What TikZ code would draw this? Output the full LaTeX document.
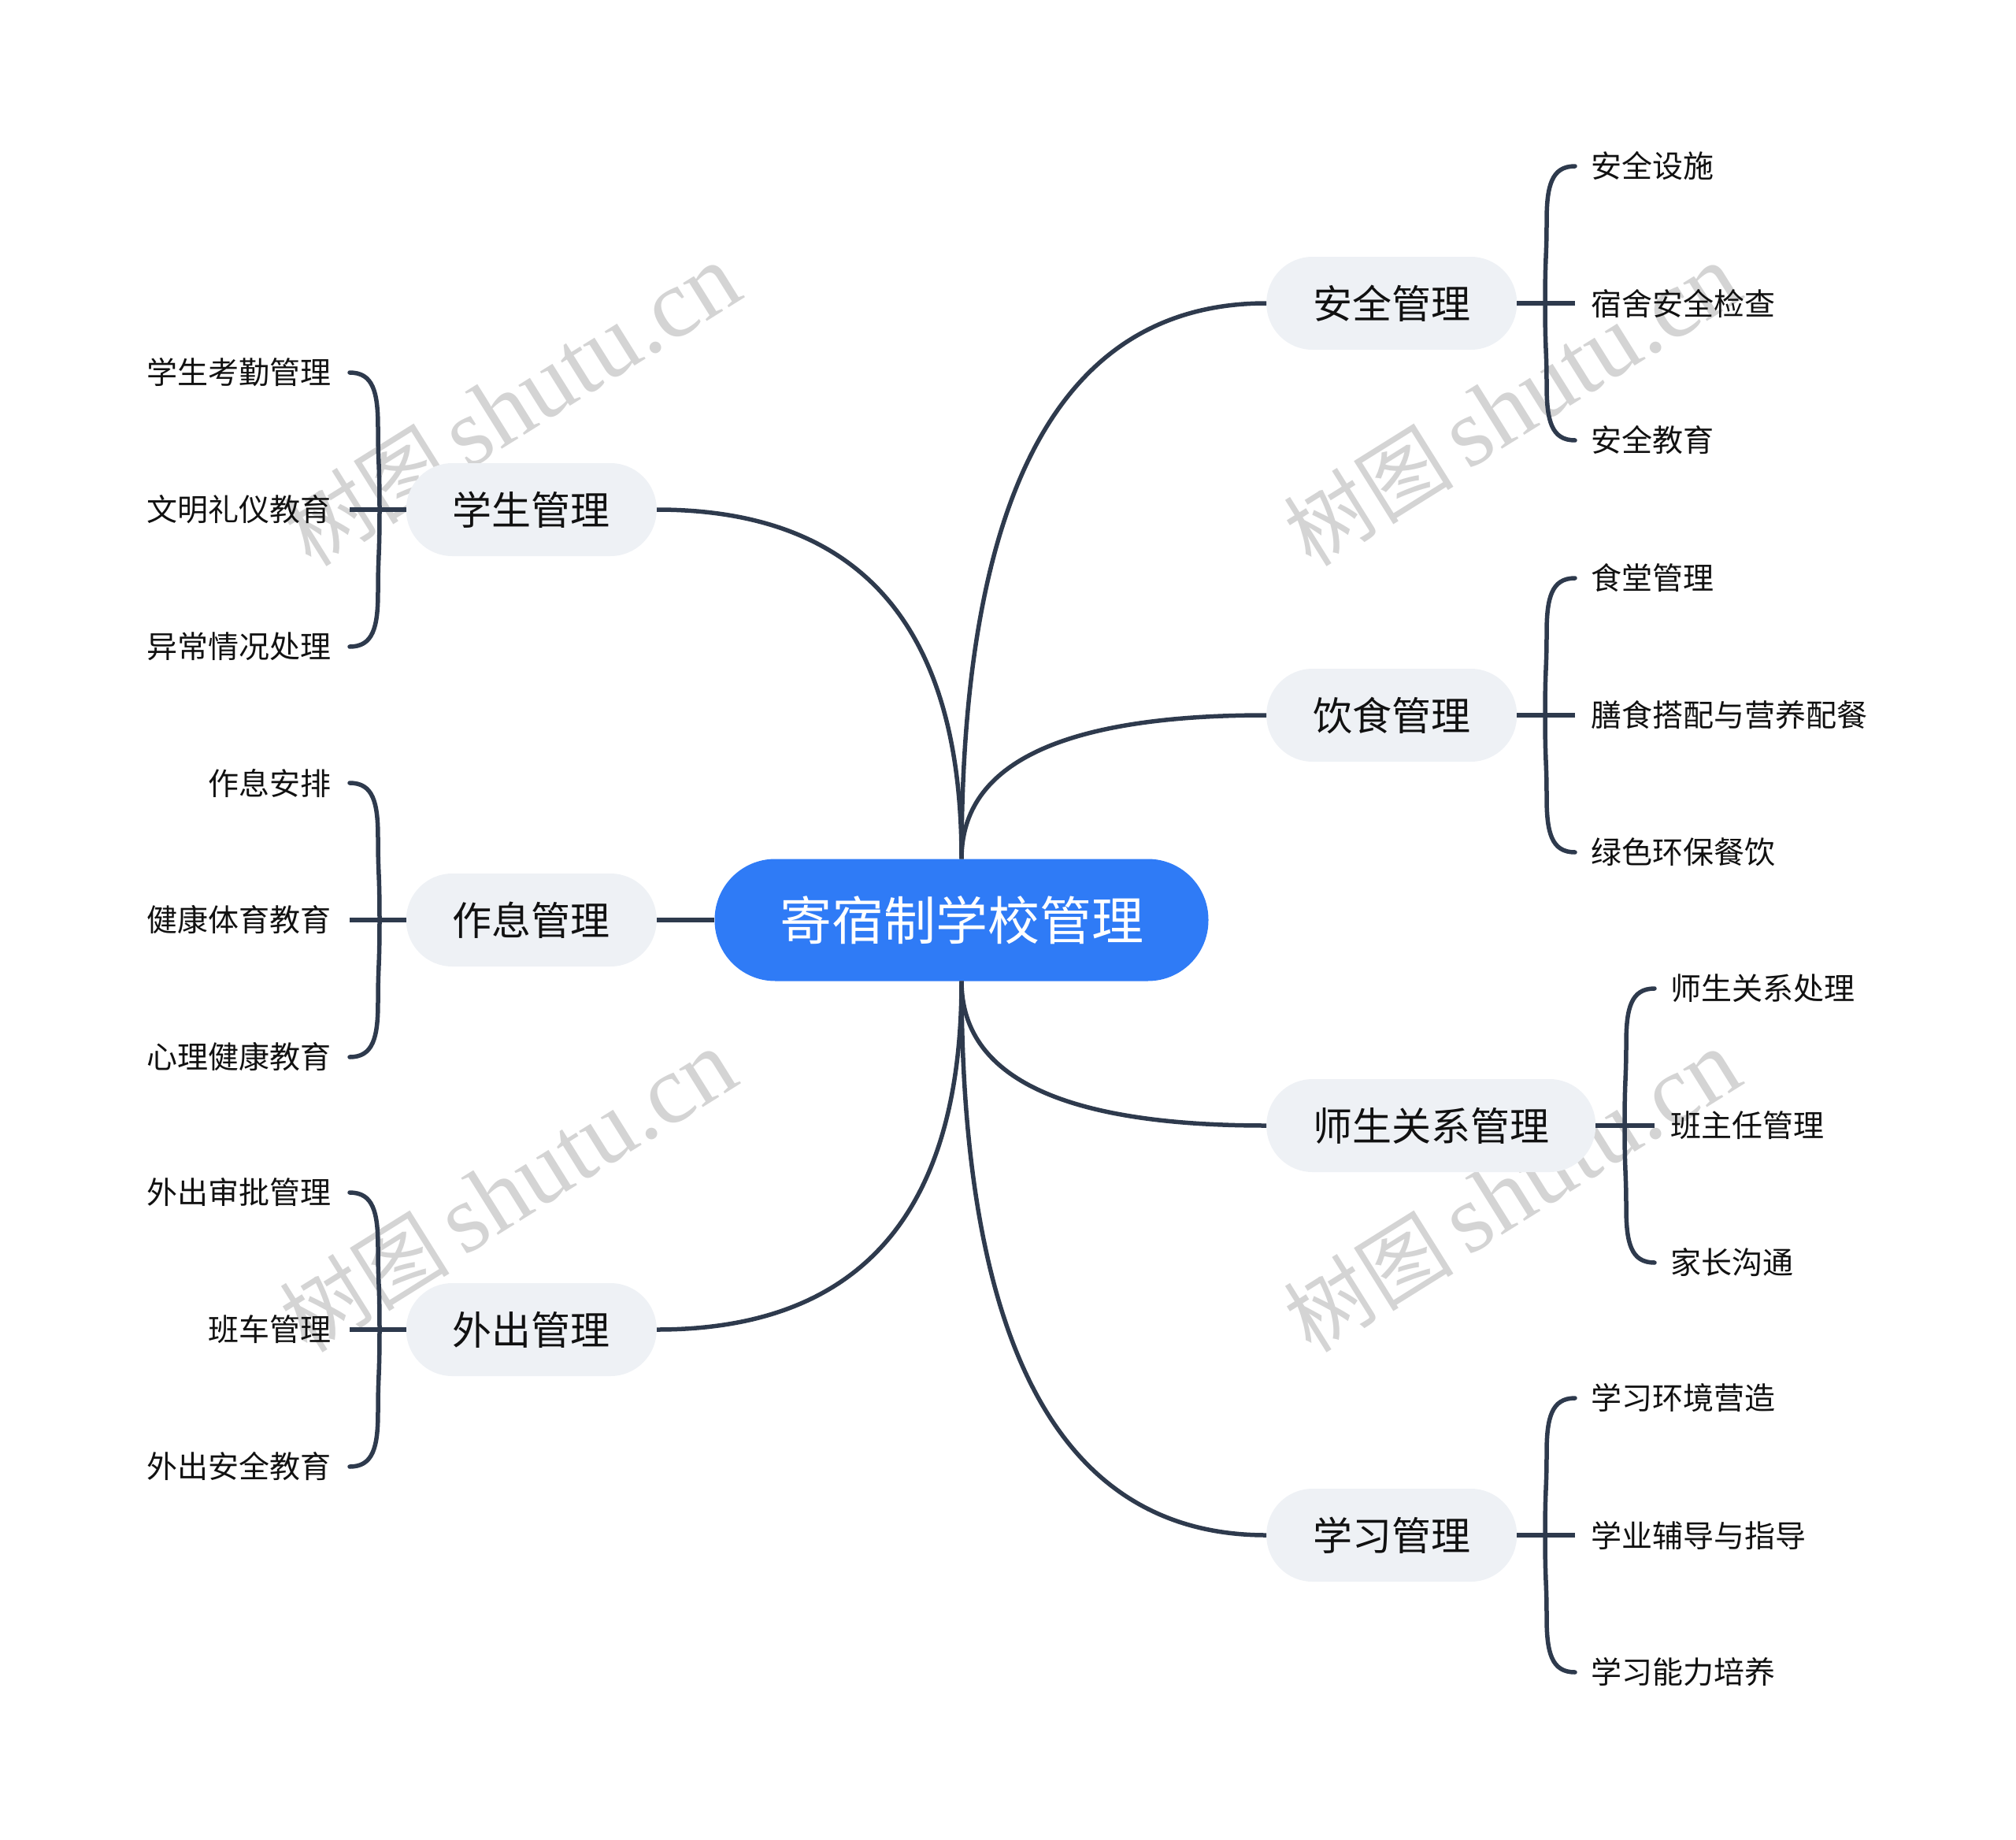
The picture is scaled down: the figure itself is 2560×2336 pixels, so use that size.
\documentclass[tikz,border=0pt]{standalone}
\usepackage{fontspec}
\newfontfamily\cjk{Noto Sans CJK SC}
\newfontfamily\wmserif{Liberation Serif}
\usetikzlibrary{calc}
\definecolor{linec}{HTML}{2E3A4D}
\definecolor{rootc}{HTML}{2F7BF6}
\definecolor{subc}{HTML}{EEF1F5}
\definecolor{wmc}{HTML}{D4D4D4}
\definecolor{txtc}{HTML}{111111}
\begin{document}
\begin{tikzpicture}[x=1pt,y=-1pt,
  root/.style={fill=rootc, text=white, rounded corners=77pt, minimum height=155pt, minimum width=627pt, inner sep=0pt, font=\cjk\fontsize{66}{66}\selectfont},
  topic/.style={fill=subc, text=txtc, rounded corners=58.5pt, minimum height=118pt, inner xsep=59pt, inner ysep=0pt, font=\cjk\fontsize{50}{50}\selectfont},
  leafr/.style={anchor=west, inner xsep=20pt, inner ysep=0pt, text=txtc, font=\cjk\fontsize{39}{39}\selectfont},
  leafl/.style={anchor=east, inner xsep=23pt, inner ysep=0pt, text=txtc, font=\cjk\fontsize{39}{39}\selectfont},
  conn/.style={draw=linec, line width=5.5pt},
  wm/.style={rotate=32, text=wmc, inner sep=0pt}
]
\useasboundingbox (0,0) rectangle (2560,2336);
% watermarks
\foreach \wx/\wy/\wn in {650/514/wa, 1920/514/wb, 645/1512/wc, 1920/1512/wd}{
  \node[wm] (\wn) at (\wx,\wy) {\cjk\fontsize{108}{108}\selectfont 树图\,\wmserif\fontsize{124}{124}\selectfont shutu.cn};
}
% root
\node[root] (c) at (1221,1168) {寄宿制学校管理};
% right topics
\node[topic, anchor=west] (t1) at (1608,385) {安全管理};
\node[topic, anchor=west] (t2) at (1608,908) {饮食管理};
\node[topic, anchor=west] (t3) at (1608,1429) {师生关系管理};
\node[topic, anchor=west] (t4) at (1608,1949) {学习管理};
% left topics
\node[topic, anchor=east] (s1) at (834,647) {学生管理};
\node[topic, anchor=east] (s2) at (834,1168) {作息管理};
\node[topic, anchor=east] (s3) at (834,1688) {外出管理};
% right leaves
\node[leafr] (t1a) at (2000,211) {安全设施};
\node[leafr] (t1b) at (2000,385) {宿舍安全检查};
\node[leafr] (t1c) at (2000,559) {安全教育};
\node[leafr] (t2a) at (2000,734) {食堂管理};
\node[leafr] (t2b) at (2000,908) {膳食搭配与营养配餐};
\node[leafr] (t2c) at (2000,1082) {绿色环保餐饮};
\node[leafr] (t3a) at (2101,1255) {师生关系处理};
\node[leafr] (t3b) at (2101,1429) {班主任管理};
\node[leafr] (t3c) at (2101,1603) {家长沟通};
\node[leafr] (t4a) at (2000,1775) {学习环境营造};
\node[leafr] (t4b) at (2000,1949) {学业辅导与指导};
\node[leafr] (t4c) at (2000,2123) {学习能力培养};
% left leaves
\node[leafl] (s1a) at (444,473) {学生考勤管理};
\node[leafl] (s1b) at (444,647) {文明礼仪教育};
\node[leafl] (s1c) at (444,821) {异常情况处理};
\node[leafl] (s2a) at (444,994) {作息安排};
\node[leafl] (s2b) at (444,1168) {健康体育教育};
\node[leafl] (s2c) at (444,1342) {心理健康教育};
\node[leafl] (s3a) at (444,1514) {外出审批管理};
\node[leafl] (s3b) at (444,1688) {班车管理};
\node[leafl] (s3c) at (444,1862) {外出安全教育};
% main connectors (quadratic-like curves)
\foreach \t in {t1,t2}{
  \draw[conn] (c.north) .. controls ($(c.north)!0.667!(c.north |- \t.west)$) and ($(\t.west)!0.667!(c.north |- \t.west)$) .. (\t.west);
}
\foreach \t in {t3,t4}{
  \draw[conn] (c.south) .. controls ($(c.south)!0.667!(c.south |- \t.west)$) and ($(\t.west)!0.667!(c.south |- \t.west)$) .. (\t.west);
}
\draw[conn] (c.north) .. controls ($(c.north)!0.667!(c.north |- s1.east)$) and ($(s1.east)!0.667!(c.north |- s1.east)$) .. (s1.east);
\draw[conn] (c.south) .. controls ($(c.south)!0.667!(c.south |- s3.east)$) and ($(s3.east)!0.667!(c.south |- s3.east)$) .. (s3.east);
\draw[conn] (s2.east) -- (c.west);
% right brackets
\foreach \t in {t1,t2,t3,t4}{
  \draw[conn] (\t.east) -- (\t b.west);
  \draw[conn, line cap=round] (\t a.west) .. controls +(-30,0) and +(0,-45) .. ($(\t a.west)+(-36,70)$)
     .. controls +(0,45) and +(0,-60) .. ($(\t b.west)+(-38,0)$)
     .. controls +(0,60) and +(0,-45) .. ($(\t c.west)+(-36,-70)$)
     .. controls +(0,45) and +(-30,0) .. (\t c.west);
}
% left brackets
\foreach \s in {s1,s2,s3}{
  \draw[conn] (\s.west) -- (\s b.east);
  \draw[conn, line cap=round] (\s a.east) .. controls +(30,0) and +(0,-45) .. ($(\s a.east)+(36,70)$)
     .. controls +(0,45) and +(0,-60) .. ($(\s b.east)+(38,0)$)
     .. controls +(0,60) and +(0,-45) .. ($(\s c.east)+(36,-70)$)
     .. controls +(0,45) and +(30,0) .. (\s c.east);
}
\end{tikzpicture}
\end{document}
